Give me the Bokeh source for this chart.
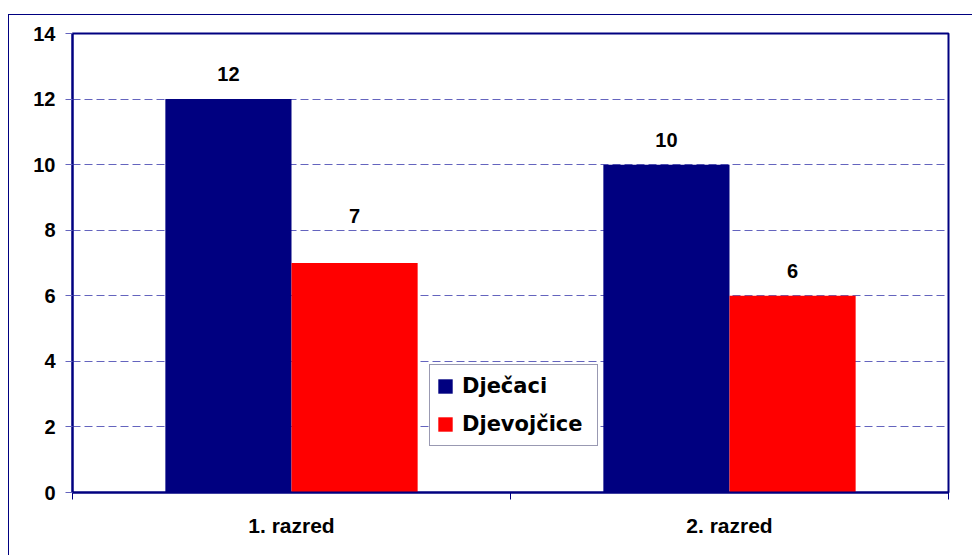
from bokeh.plotting import figure
from bokeh.models import (ColumnDataSource, Range1d, FixedTicker, Legend, LegendItem)
from bokeh.transform import dodge
from bokeh.core.properties import value
from bokeh.embed import file_html
from bokeh.resources import INLINE

# ---- data ----
categories = ["1. razred", "2. razred"]
djecaci = [12, 10]
djevojcice = [7, 6]
series_names = ["Dječaci", "Djevojčice"]
y_ticks = [0, 2, 4, 6, 8, 10, 12, 14]

NAVY = "#000080"
RED = "#FF0000"
GRID = "#6464be"
FONT = "Liberation Sans"

# label offsets above bars (pixels)
d_lab_dy = [-25, -25]
g_lab_dy = [-47, -25]

xc = [i + 0.5 for i in range(len(categories))]
src = ColumnDataSource(dict(
    x=xc,
    d=djecaci,
    g=djevojcice,
    d_txt=[str(v) for v in djecaci],
    g_txt=[str(v) for v in djevojcice],
    d_dy=d_lab_dy,
    g_dy=g_lab_dy,
))

W, H = 964, 541
p = figure(width=W, height=H, output_backend="svg", toolbar_location=None,
           x_range=Range1d(0, len(categories)), y_range=Range1d(0, 14),
           min_border_left=63, min_border_right=W - 939, min_border_top=18,
           min_border_bottom=H - 477, background_fill_color="white",
           border_fill_color="white")
p.styles = {"margin-left": "8px", "margin-top": "14px",
            "border-left": "1px solid #000080", "border-top": "1px solid #000080"}

p.outline_line_color = NAVY
p.outline_line_width = 2

bw = 0.288
off = 0.144
r1 = p.vbar(x=dodge("x", -off, range=p.x_range), top="d", width=bw, bottom=0,
            source=src, fill_color=NAVY, line_color=None)
r2 = p.vbar(x=dodge("x", off, range=p.x_range), top="g", width=bw, bottom=0,
            source=src, fill_color=RED, line_color=None)

lab_kw = dict(text_font=value(FONT), text_font_style="bold", text_font_size="20px",
              text_align="center", text_baseline="alphabetic", text_color="black",
              source=src)
p.text(x=dodge("x", -off, range=p.x_range), y="d", text="d_txt", y_offset="d_dy", **lab_kw)
p.text(x=dodge("x", off, range=p.x_range), y="g", text="g_txt", y_offset="g_dy", **lab_kw)

# y axis
ya = p.yaxis[0]
ya.ticker = FixedTicker(ticks=y_ticks)
ya.major_tick_out = 7
ya.major_tick_in = 0
ya.major_tick_line_color = GRID
ya.minor_tick_line_color = None
ya.axis_line_color = NAVY
ya.axis_line_width = 2
ya.major_label_standoff = 10
ya.major_label_text_font = FONT
ya.major_label_text_font_style = "bold"
ya.major_label_text_font_size = "20px"
ya.major_label_text_color = "black"

# x axis
xa = p.xaxis[0]
xa.ticker = FixedTicker(ticks=xc, minor_ticks=list(range(len(categories) + 1)))
xa.major_label_overrides = {x: c for x, c in zip(xc, categories)}
xa.major_tick_line_color = None
xa.major_tick_out = 0
xa.major_tick_in = 0
xa.minor_tick_out = 7
xa.minor_tick_in = 0
xa.minor_tick_line_color = NAVY
xa.axis_line_color = NAVY
xa.axis_line_width = 2
xa.major_label_standoff = 14
xa.major_label_text_font = FONT
xa.major_label_text_font_style = "bold"
xa.major_label_text_font_size = "21px"
xa.major_label_text_color = "black"

p.xgrid.visible = False
p.ygrid.ticker = FixedTicker(ticks=y_ticks)
p.ygrid.grid_line_color = GRID
p.ygrid.grid_line_dash = "8 4"
p.ygrid.grid_line_width = 1

legend = Legend(items=[LegendItem(label=series_names[0], renderers=[r1]),
                       LegendItem(label=series_names[1], renderers=[r2])],
                location=(357, 46), orientation="vertical",
                padding=6, spacing=8, margin=0,
                glyph_width=18, glyph_height=18, label_standoff=8,
                label_width=129, label_height=30,
                label_text_font="DejaVu Sans", label_text_font_style="bold",
                label_text_font_size="21px", label_text_color="black",
                border_line_color="#333366", border_line_width=1,
                background_fill_color="white", background_fill_alpha=1)
p.add_layout(legend, "center")

open("out.html", "w").write(file_html(p, INLINE))
